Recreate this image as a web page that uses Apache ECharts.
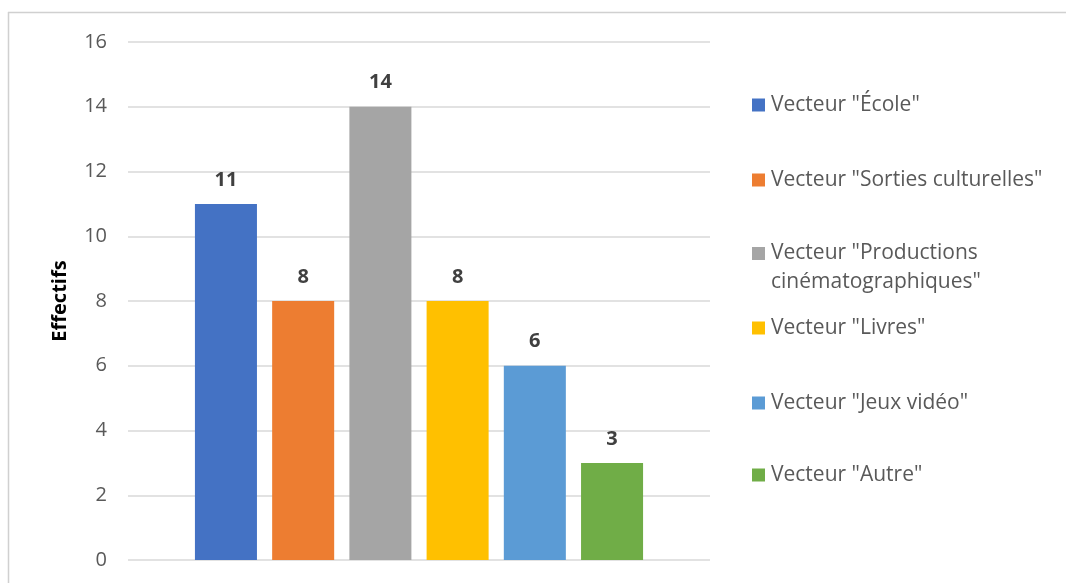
<!DOCTYPE html>
<html>
<head>
<meta charset="utf-8">
<script src="https://cdn.jsdelivr.net/npm/echarts@6/dist/echarts.min.js"></script>
<style>
html,body{margin:0;padding:0;background:#fff;}
#chart{width:1066px;height:583px;}
</style>
</head>
<body>
<div id="chart"></div>
<script>
const categories = [''];
const seriesNames = ['Vecteur "École"', 'Vecteur "Sorties culturelles"', 'Vecteur "Productions cinématographiques"', 'Vecteur "Livres"', 'Vecteur "Jeux vidéo"', 'Vecteur "Autre"'];
const seriesValues = [11, 8, 14, 8, 6, 3];
const seriesColors = ['#4472C4', '#ED7D31', '#A5A5A5', '#FFC000', '#5B9BD5', '#70AD47'];
const yTicks = {min: 0, max: 16, interval: 2};
const yAxisTitle = 'Effectifs';

const FONT = '"Open Sans", sans-serif';
const legendTops = [90.5, 165.5, 239, 313.5, 388.5, 460.5];

const legends = seriesNames.map((name, i) => {
  const multi = i === 2;
  return {
    show: true,
    data: [name],
    orient: 'vertical',
    left: 752,
    top: legendTops[i],
    padding: 0,
    itemWidth: 13,
    itemHeight: multi ? 58 : 13,
    itemGap: 0,
    icon: multi ? 'path://M0,8H13V21H0Z M0,0L0,0 M13,58L13,58' : 'rect',
    formatter: multi ? function (n) { return 'Vecteur "Productions\ncinématographiques"'; } : undefined,
    selectedMode: false,
    textStyle: {fontFamily: FONT, fontSize: 21, color: '#595959', lineHeight: 29, padding: [0, 0, 0, 1]}
  };
});

const chart = echarts.init(document.getElementById('chart'), null, {renderer: 'canvas'});
chart.setOption({
  backgroundColor: '#fff',
  animation: false,
  textStyle: {fontFamily: FONT},
  graphic: [
    {type: 'line', silent: true, z: -10, shape: {x1: 8, y1: 12.5, x2: 1066, y2: 12.5}, style: {stroke: '#d0d0d0', lineWidth: 1.5}},
    {type: 'line', silent: true, z: -10, shape: {x1: 8.5, y1: 12, x2: 8.5, y2: 583}, style: {stroke: '#d0d0d0', lineWidth: 1.5}}
  ],
  legend: legends,
  grid: {left: 128, right: 356, top: 42, bottom: 23, containLabel: false},
  xAxis: {
    type: 'category', data: categories,
    axisLine: {show: false}, axisTick: {show: false}, axisLabel: {show: false}
  },
  yAxis: {
    type: 'value', min: yTicks.min, max: yTicks.max, interval: yTicks.interval,
    name: yAxisTitle, nameLocation: 'middle', nameGap: 58, nameRotate: 90,
    nameTextStyle: {fontFamily: FONT, fontSize: 20, fontWeight: 'bold', color: '#000'},
    axisLine: {show: false}, axisTick: {show: false},
    axisLabel: {fontFamily: FONT, fontSize: 20, color: '#595959', margin: 21},
    splitLine: {lineStyle: {color: '#d9d9d9', width: 1.5}}
  },
  series: seriesNames.map((name, i) => ({
    type: 'bar', name: name, data: [seriesValues[i]],
    barGap: '24.5%', barCategoryGap: '23%',
    itemStyle: {color: seriesColors[i]},
    label: {show: true, position: 'top', distance: 14, fontFamily: FONT, fontSize: 20, fontWeight: 'bold', color: '#404040'}
  }))
});
</script>
</body>
</html>
